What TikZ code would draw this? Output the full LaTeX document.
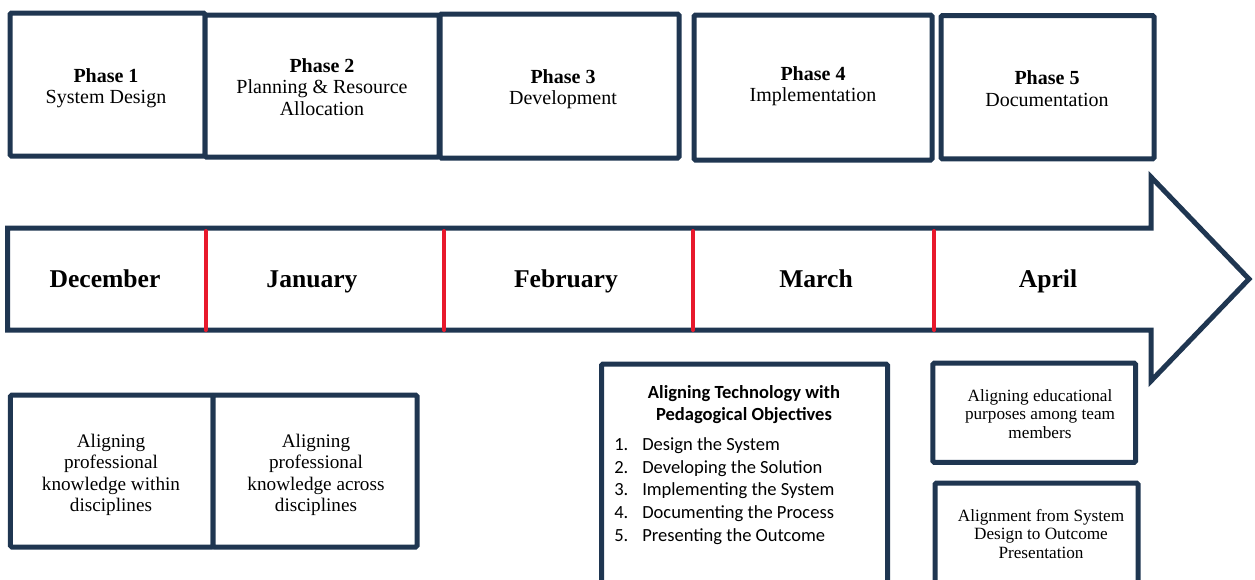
\documentclass[tikz,border=0pt]{standalone}
\usepackage{fontspec}
\setmainfont{Liberation Serif}
\newfontfamily\carlito{Carlito}
\definecolor{navy}{HTML}{1F3651}
\definecolor{divred}{HTML}{E8192C}
\tikzset{
  box/.style={draw=navy, line width=3.75pt, rounded corners=1pt, inner sep=0pt, fill=white},
  phasetxt/.style={align=center, font=\fontsize{15}{16.1}\selectfont, inner sep=0pt},
  monthtxt/.style={font=\fontsize{19.2}{22}\selectfont\bfseries, inner sep=0pt, anchor=base},
  lowtxt/.style={align=center, font=\fontsize{14.4}{16.1}\selectfont, inner sep=0pt},
  smalltxt/.style={align=center, font=\fontsize{12.9}{13.9}\selectfont, inner sep=0pt},
  divider/.style={draw=divred, line width=3pt, line cap=round},
}
\begin{document}
\begin{tikzpicture}[x=0.75pt, y=-0.75pt]
\useasboundingbox (0,0) rectangle (1255,579);
\clip (0,0) rectangle (1255,579);
% top phase boxes
\node[box, minimum width=146.25pt, minimum height=107.25pt] (b1) at (107.5,84.5) {};
\node[box, minimum width=175.5pt, minimum height=106.5pt] (b2) at (322,86) {};
\node[box, minimum width=179.25pt, minimum height=108pt] (b3) at (559.5,86) {};
\node[box, minimum width=178.5pt, minimum height=108.75pt] (b4) at (813,87.5) {};
\node[box, minimum width=159.75pt, minimum height=107.6pt] (b5) at (1047.5,87.25) {};
\node[phasetxt] (t1) at (106,88) {\textbf{Phase 1}\\System Design};
\node[phasetxt] (t2) at (322,87) {\textbf{Phase 2}\\Planning \& Resource\\Allocation};
\node[phasetxt] (t3) at (563,89) {\textbf{Phase 3}\\Development};
\node[phasetxt] (t4) at (813,86) {\textbf{Phase 4}\\Implementation};
\node[phasetxt] (t5) at (1047,88.5) {\textbf{Phase 5}\\Documentation};
% timeline arrow
\coordinate (a1) at (7.5,228);
\coordinate (a2) at (1151,228);
\coordinate (a3) at (1151,177);
\coordinate (a4) at (1249,279);
\coordinate (a5) at (1151,381);
\coordinate (a6) at (1151,330);
\coordinate (a7) at (7.5,330);
\draw[navy, line width=3.75pt, fill=white, line join=miter] (a1) -- (a2) -- (a3) -- (a4) -- (a5) -- (a6) -- (a7) -- cycle;
% dividers
\coordinate (d1t) at (205.5,231); \coordinate (d1b) at (205.5,330);
\coordinate (d2t) at (444,231); \coordinate (d2b) at (444,330);
\coordinate (d3t) at (693,231); \coordinate (d3b) at (693,330);
\coordinate (d4t) at (934,231); \coordinate (d4b) at (934,330);
\draw[divider] (d1t) -- (d1b);
\draw[divider] (d2t) -- (d2b);
\draw[divider] (d3t) -- (d3b);
\draw[divider] (d4t) -- (d4b);
% months
\node[monthtxt] (m1) at (105,287.5) {December};
\node[monthtxt] (m2) at (312,287.5) {January};
\node[monthtxt] (m3) at (566,287.5) {February};
\node[monthtxt] (m4) at (816,287.5) {March};
\node[monthtxt] (m5) at (1048,287.5) {April};
% bottom boxes
\node[box, minimum width=151.9pt, minimum height=114pt] (ba) at (111.75,471) {};
\node[box, minimum width=153pt, minimum height=114pt] (bb) at (315,471) {};
\node[lowtxt] (ta) at (111,475) {Aligning\\professional\\knowledge within\\disciplines};
\node[lowtxt] (tb) at (316,475) {Aligning\\professional\\knowledge across\\disciplines};
\node[box, minimum width=214.5pt, minimum height=192pt] (bc) at (744.5,492) {};
\node[align=center, inner sep=0pt, font=\carlito\bfseries\fontsize{13.9}{16.5}\selectfont] (tc) at (744,405) {Aligning Technology with\\Pedagogical Objectives};
\node[align=left, anchor=west, inner sep=0pt, font=\carlito\fontsize{13.9}{17.1}\selectfont] (lc) at (614,491) {%
\makebox[21pt][l]{1.}Design the System\\
\makebox[21pt][l]{2.}Developing the Solution\\
\makebox[21pt][l]{3.}Implementing the System\\
\makebox[21pt][l]{4.}Documenting the Process\\
\makebox[21pt][l]{5.}Presenting the Outcome};
\node[box, minimum width=151.9pt, minimum height=74.6pt] (bd) at (1034.25,412.75) {};
\node[smalltxt] (td) at (1040,414) {Aligning educational\\purposes among team\\members};
\node[box, minimum width=152.25pt, minimum height=85.5pt] (be) at (1036.5,540) {};
\node[smalltxt] (te) at (1041,534) {Alignment from System\\Design to Outcome\\Presentation};
\end{tikzpicture}
\end{document}
